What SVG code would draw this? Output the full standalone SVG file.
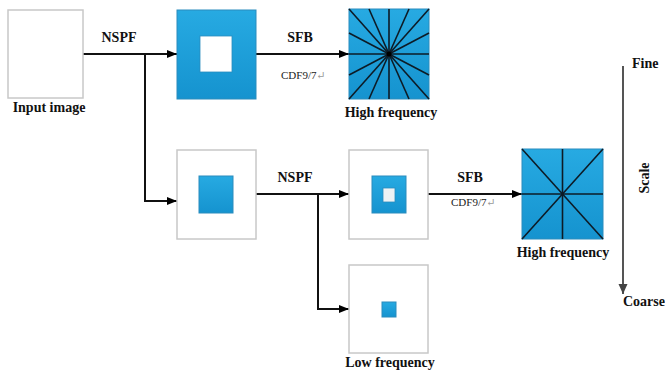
<svg xmlns="http://www.w3.org/2000/svg" width="665" height="372" viewBox="0 0 665 372">
<defs>
  <linearGradient id="blue" x1="0" y1="0" x2="0" y2="1">
    <stop offset="0" stop-color="#27aae2"/>
    <stop offset="1" stop-color="#1593cf"/>
  </linearGradient>
  <marker id="arr" viewBox="0 0 10 10" refX="10" refY="5" markerWidth="10" markerHeight="10" markerUnits="userSpaceOnUse" orient="auto">
    <path d="M0,1 L10,5 L0,9 Z" fill="#000"/>
  </marker>
  <marker id="arrg" viewBox="0 0 10 10" refX="10" refY="5" markerWidth="10" markerHeight="10" markerUnits="userSpaceOnUse" orient="auto">
    <path d="M0,0.5 L10,5 L0,9.5 Z" fill="#444"/>
  </marker>
</defs>
<style>
  .frame { fill: #fff; stroke: #c8c8c8; stroke-width: 1.5; }
  .blue { fill: url(#blue); stroke: #2a8cbd; stroke-width: 1; }
  .hole { fill: #fff; stroke: #2a8cbd; stroke-width: 0.8; }
  .ray { stroke: #0d1b26; stroke-width: 1.6; }
  .conn { fill: none; stroke: #111; stroke-width: 2; }
  text { font-family: 'Liberation Serif', 'DejaVu Serif', serif; }
  .lbl { font-weight: bold; font-size: 14px; fill: #111; }
  .sub { font-size: 11px; fill: #222; }
  .ret { fill: #999; }
</style>
<rect width="665" height="372" fill="#fff"/>

<g id="connectors">
  <path class="conn" d="M83,54 H177" marker-end="url(#arr)"/>
  <path class="conn" d="M145,54 V201 H177" marker-end="url(#arr)"/>
  <path class="conn" d="M256,54 H349" marker-end="url(#arr)"/>
  <path class="conn" d="M256,194 H349" marker-end="url(#arr)"/>
  <path class="conn" d="M318,194 V309 H349" marker-end="url(#arr)"/>
  <path class="conn" d="M428,194 H522" marker-end="url(#arr)"/>
  <text class="lbl" x="119" y="42" text-anchor="middle">NSPF</text>
  <text class="lbl" x="300" y="42" text-anchor="middle">SFB</text>
  <text class="sub" x="281" y="79">CDF9/7<tspan class="ret">↵</tspan></text>
  <text class="lbl" x="295" y="182" text-anchor="middle">NSPF</text>
  <text class="lbl" x="470" y="182" text-anchor="middle">SFB</text>
  <text class="sub" x="451" y="206">CDF9/7<tspan class="ret">↵</tspan></text>
</g>

<g id="input-image">
  <rect class="frame" x="8" y="10" width="75" height="88"/>
  <text class="lbl" x="49" y="112" text-anchor="middle">Input image</text>
</g>

<g id="bandpass-1">
  <rect class="blue" x="177" y="10" width="79" height="89"/>
  <rect class="hole" x="200" y="36" width="32" height="36"/>
</g>

<g id="high-frequency-1">
  <rect class="blue" x="349" y="9" width="80" height="90"/>
  <g class="ray">
    <line x1="349" y1="9" x2="429" y2="99"/>
    <line x1="429" y1="9" x2="349" y2="99"/>
    <line x1="369" y1="9" x2="409" y2="99"/>
    <line x1="389" y1="9" x2="389" y2="99"/>
    <line x1="409" y1="9" x2="369" y2="99"/>
    <line x1="349" y1="33" x2="429" y2="75"/>
    <line x1="349" y1="54" x2="429" y2="54"/>
    <line x1="349" y1="75" x2="429" y2="33"/>
  </g>
  <circle cx="389" cy="54" r="2.5" fill="#000"/>
  <text class="lbl" x="391" y="117" text-anchor="middle">High frequency</text>
</g>

<g id="lowpass-1">
  <rect class="frame" x="177" y="150" width="79" height="89"/>
  <rect class="blue" x="199" y="176" width="34" height="37"/>
</g>

<g id="bandpass-2">
  <rect class="frame" x="349" y="150" width="79" height="89"/>
  <rect class="blue" x="372" y="176" width="34" height="37"/>
  <rect class="hole" x="383" y="188" width="12" height="14" style="fill:#eef2f4"/>
</g>

<g id="low-frequency">
  <rect class="frame" x="349" y="265" width="79" height="88"/>
  <rect class="blue" x="382" y="302" width="14" height="15"/>
  <text class="lbl" x="390" y="367" text-anchor="middle">Low frequency</text>
</g>

<g id="high-frequency-2">
  <rect class="blue" x="522" y="149" width="81" height="90"/>
  <g class="ray">
    <line x1="522" y1="149" x2="603" y2="239"/>
    <line x1="603" y1="149" x2="522" y2="239"/>
    <line x1="562.5" y1="149" x2="562.5" y2="239"/>
    <line x1="522" y1="194" x2="603" y2="194"/>
  </g>
  <text class="lbl" x="563" y="257" text-anchor="middle">High frequency</text>
</g>

<g id="scale-axis">
  <path d="M623,66 V294" fill="none" stroke="#555" stroke-width="2" marker-end="url(#arrg)"/>
  <text class="lbl" x="632" y="68">Fine</text>
  <text class="lbl" x="644" y="178" text-anchor="middle" transform="rotate(-90 644 178)" dy="5">Scale</text>
  <text class="lbl" x="623" y="306">Coarse</text>
</g>
</svg>
